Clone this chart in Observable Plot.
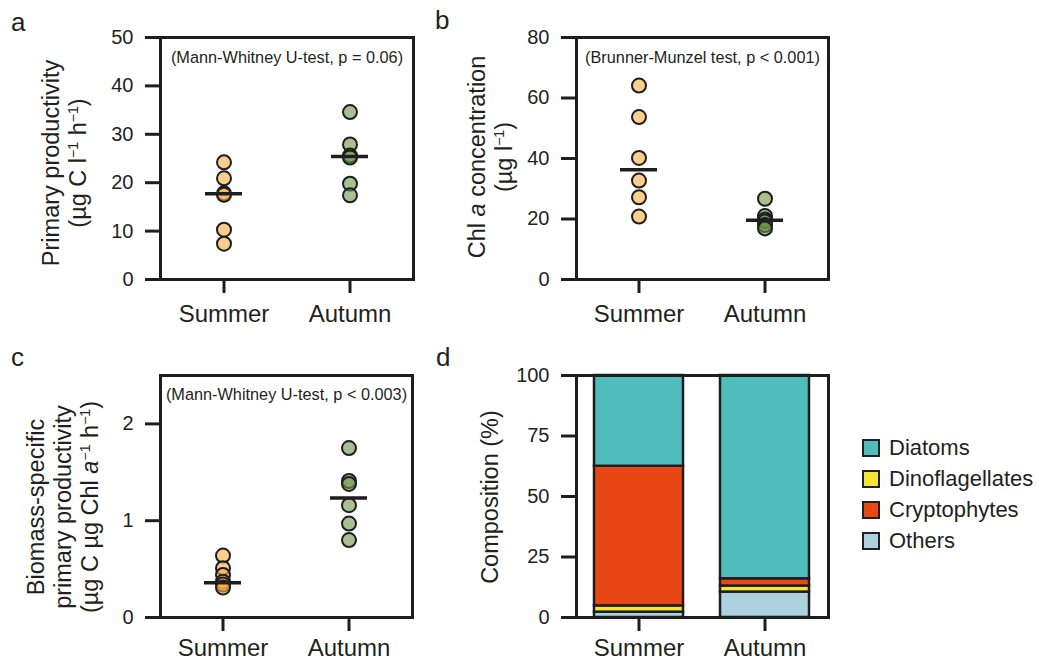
<!DOCTYPE html>
<html>
<head>
<meta charset="utf-8">
<script src="https://cdn.jsdelivr.net/npm/d3@7"></script>
<script src="https://cdn.jsdelivr.net/npm/@observablehq/plot@0.6"></script>
<style>
html, body { margin: 0; padding: 0; background: #fff; }
#root { position: relative; width: 1039px; height: 660px; overflow: hidden;
  font-family: "Liberation Sans", Arial, sans-serif; color: #231f20; }
.panel { position: absolute; }
.panel svg { overflow: visible; }
.ytitle { position: absolute; transform: translate(-50%, -50%) rotate(-90deg);
  white-space: nowrap; text-align: center; font-size: 23.5px; line-height: 27px; }
.sup { font-size: 0.6em; position: relative; top: -0.6em; }
.letter { position: absolute; font-size: 26px; line-height: 26px; }
.legend { position: absolute; left: 862px; top: 432px; }
.legend .row { display: flex; align-items: center; height: 31px; font-size: 22px; }
.legend .sw { width: 18px; height: 18px; box-sizing: border-box; border: 2px solid #231f20; margin-right: 9px; }
</style>
</head>
<body>
<div id="root"></div>
<script>
// ---------- data ----------
const seasons = ["Summer", "Autumn"];

// a: primary productivity (µg C l-1 h-1)
const ppSummer = [24.2, 20.9, 17.8, 17.5, 10.3, 7.4];
const ppAutumn = [34.6, 27.9, 25.6, 25.2, 19.8, 17.4];
const ppMedian = [17.7, 25.4];

// b: Chl a concentration (µg l-1)
const chlSummer = [64.1, 53.7, 40.2, 32.7, 27.2, 20.8];
const chlAutumn = [26.7, 21.0, 19.8, 19.2, 18.0, 16.9];
const chlMedian = [36.3, 19.6];

// c: biomass-specific primary productivity
const bsSummer = [0.64, 0.51, 0.44, 0.37, 0.34, 0.31];
const bsAutumn = [1.75, 1.41, 1.38, 1.16, 0.97, 0.80];
const bsMedian = [0.36, 1.235];

// d: composition (%), stacked bottom to top
const groups = ["Others", "Dinoflagellates", "Cryptophytes", "Diatoms"];
const compSummer = [2.2, 2.6, 57.7, 37.5];
const compAutumn = [10.5, 2.5, 3.0, 84.0];
const legendOrder = ["Diatoms", "Dinoflagellates", "Cryptophytes", "Others"];

const notes = ["(Mann-Whitney U-test, p = 0.06)", "(Brunner-Munzel test, p < 0.001)", "(Mann-Whitney U-test, p < 0.003)"];
const yTicksA = [0, 10, 20, 30, 40, 50];
const yTicksB = [0, 20, 40, 60, 80];
const yTicksC = [0, 1, 2];
const yTicksD = [0, 25, 50, 75, 100];

// ---------- style ----------
const ink = "#1e1e20";
const seasonColors = ["#FAAD43", "#6E9648"];
const groupColors = {Diatoms: "#50BDBD", Dinoflagellates: "#F3E534", Cryptophytes: "#E94814", Others: "#ACD2E0"};
const font = "'Liberation Sans', Arial, sans-serif";
const root = document.getElementById("root");

function place(node, left, top) {
  const d = document.createElement("div");
  d.className = "panel";
  d.style.left = left + "px";
  d.style.top = top + "px";
  d.appendChild(node);
  root.appendChild(d);
}

function axes(ticks, xPad) {
  return [
    Plot.axisY({ticks, tickFormat: d => String(d), tickSize: 15, tickPadding: 12, strokeWidth: 3, stroke: ink, fontSize: 20, label: null, fill: "#231f20"}),
    Plot.axisX({tickSize: 14, tickPadding: xPad, strokeWidth: 3, stroke: ink, fontSize: 24, label: null, fill: "#231f20"})
  ];
}

function scatter({left, top, marginLeft, marginRight, marginTop, marginBottom, summer, autumn, medians, domain, ticks, note, noteDy, xPad}) {
  const data = [];
  summer.forEach(v => data.push({season: "Summer", value: v}));
  autumn.forEach(v => data.push({season: "Autumn", value: v}));
  const med = seasons.map((s, i) => ({season: s, value: medians[i]}));
  const p = Plot.plot({
    width: 430, height: 330, marginLeft, marginRight, marginTop, marginBottom,
    style: {fontFamily: font, color: "#231f20", background: "transparent", overflow: "visible"},
    x: {type: "band", domain: seasons, paddingInner: 0.706, paddingOuter: 0.353, axis: null},
    y: {domain, axis: null},
    color: {domain: seasons, range: seasonColors},
    marks: [
      Plot.dot(data, {x: "season", y: "value", fill: "season", fillOpacity: 0.6, r: 7, stroke: ink, strokeWidth: 2}),
      Plot.tickY(med, {x: "season", y: "value", stroke: ink, strokeWidth: 3.5}),
      Plot.text([note], {text: d => d, frameAnchor: "top", lineAnchor: "top", dy: noteDy, fontSize: 16.3, fill: "#231f20"}),
      Plot.frame({stroke: ink, strokeWidth: 3}),
      ...axes(ticks, xPad)
    ]
  });
  place(p, left, top);
}

scatter({left: 0, top: 0, marginLeft: 160, marginRight: 17, marginTop: 37, marginBottom: 51,
  summer: ppSummer, autumn: ppAutumn, medians: ppMedian, domain: [0, 50], ticks: yTicksA, note: notes[0], noteDy: 14, xPad: 11});
scatter({left: 430, top: 0, marginLeft: 146, marginRight: 32, marginTop: 37, marginBottom: 51,
  summer: chlSummer, autumn: chlAutumn, medians: chlMedian, domain: [0, 80], ticks: yTicksB, note: notes[1], noteDy: 14, xPad: 11});
scatter({left: 0, top: 330, marginLeft: 160, marginRight: 18, marginTop: 45, marginBottom: 43,
  summer: bsSummer, autumn: bsAutumn, medians: bsMedian, domain: [0, 2.5], ticks: yTicksC, note: notes[2], noteDy: 13, xPad: 7});

// panel d
const comp = [];
seasons.forEach((s, si) => {
  const vals = si === 0 ? compSummer : compAutumn;
  groups.forEach((g, gi) => comp.push({season: s, group: g, value: vals[gi]}));
});
const pd = Plot.plot({
  width: 430, height: 330, marginLeft: 146, marginRight: 32, marginTop: 45, marginBottom: 43,
  style: {fontFamily: font, color: "#231f20", background: "transparent", overflow: "visible"},
  x: {type: "band", domain: seasons, paddingInner: 0.29, paddingOuter: 0.145, axis: null},
  y: {domain: [0, 100], axis: null},
  color: {domain: legendOrder, range: legendOrder.map(g => groupColors[g])},
  marks: [
    Plot.barY(comp, {x: "season", y: "value", fill: "group", stroke: ink, strokeWidth: 2.5, inset: 0}),
    Plot.frame({stroke: ink, strokeWidth: 3}),
    ...axes(yTicksD, 7)
  ]
});
place(pd, 430, 330);

// ---------- HTML text: panel letters, axis titles, legend ----------
function addHTML(cls, html, left, top) {
  const d = document.createElement("div");
  d.className = cls;
  d.innerHTML = html;
  d.style.left = left + "px";
  d.style.top = top + "px";
  root.appendChild(d);
}
const m1 = '<span class="sup">\u22121</span>';
addHTML("letter", "a", 11, 9);
addHTML("letter", "b", 435, 7);
addHTML("letter", "c", 11, 344);
addHTML("letter", "d", 436, 344);

addHTML("ytitle", "Primary productivity<br>(\u00b5g C l" + m1 + " h" + m1 + ")", 66, 163);
addHTML("ytitle", "Chl <i>a</i> concentration<br>(\u00b5g l" + m1 + ")", 492, 157);
addHTML("ytitle", "Biomass-specific<br>primary productivity<br>(\u00b5g C \u00b5g Chl <i>a</i>" + m1 + " h" + m1 + ")", 65, 507);
addHTML("ytitle", "Composition (%)", 490, 497);

const lg = document.createElement("div");
lg.className = "legend";
legendOrder.forEach(g => {
  const r = document.createElement("div");
  r.className = "row";
  r.innerHTML = '<span class="sw" style="background:' + groupColors[g] + '"></span><span>' + g + '</span>';
  lg.appendChild(r);
});
root.appendChild(lg);
</script>
</body>
</html>
